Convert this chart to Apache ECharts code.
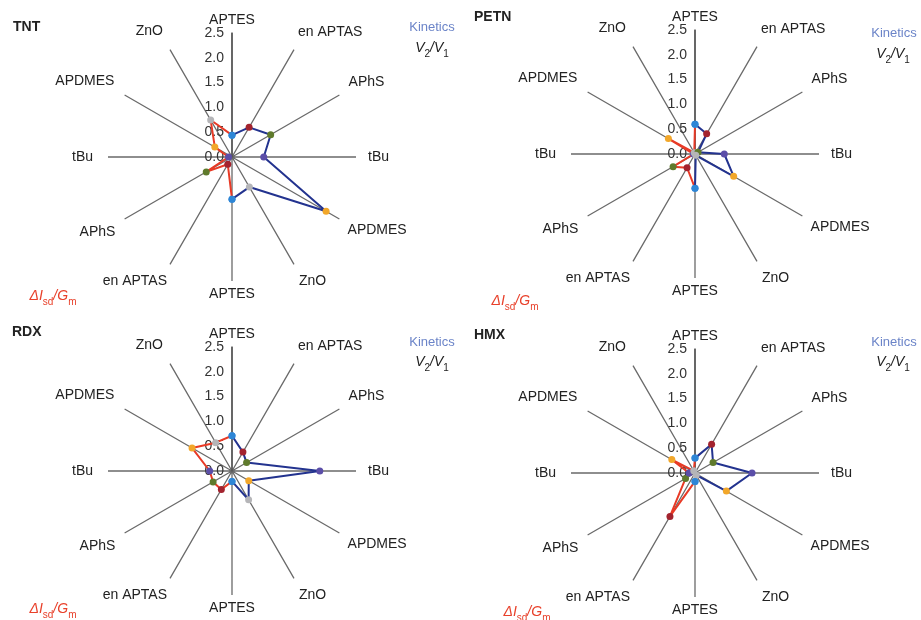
<!DOCTYPE html>
<html>
<head>
<meta charset="utf-8">
<script src="https://cdn.jsdelivr.net/npm/echarts@6/dist/echarts.min.js"></script>
<style>
html,body{margin:0;padding:0;background:#fff;}
#chart{width:921px;height:620px;}
</style>
</head>
<body>
<div id="chart"></div>
<script>
// ---- data ----
var categories = ['APTES', 'en APTAS', 'APhS', 'tBu', 'APDMES', 'ZnO'];
var panels = ['TNT', 'PETN', 'RDX', 'HMX'];
var radiusTicks = [0, 0.5, 1.0, 1.5, 2.0, 2.5];
// Kinetics V2/V1 (right half, 0°..150°)
var kineticsTNT  = [0.44, 0.69, 0.90, 0.64, 2.19, 0.70];
var kineticsPETN = [0.60, 0.47, 0.07, 0.59, 0.90, 0.03];
var kineticsRDX  = [0.71, 0.44, 0.34, 1.77, 0.39, 0.67];
var kineticsHMX  = [0.30, 0.67, 0.42, 1.15, 0.73, 0.05];
// ΔIsd/Gm (left half, 180°..330°)
var isdTNT  = [0.85, 0.17, 0.60, 0.07, 0.40, 0.86];
var isdPETN = [0.69, 0.32, 0.51, 0.03, 0.62, 0.03];
var isdRDX  = [0.21, 0.43, 0.44, 0.45, 0.93, 0.66];
var isdHMX  = [0.17, 1.01, 0.22, 0.12, 0.54, 0.05];

var kinetics = [kineticsTNT, kineticsPETN, kineticsRDX, kineticsHMX];
var isd = [isdTNT, isdPETN, isdRDX, isdHMX];

// ---- styles ----
var FONT = '"Liberation Sans", Arial, Helvetica, sans-serif';
var markerColors = ['#2e86d6', '#a3232e', '#5f7a2c', '#5b4ea8', '#f2a72a', '#b5b5b8'];
var blueLine = '#23338f';
var redLine = '#e83a26';
var centers = [[232, 157], [695, 154], [232, 471], [695, 473]];
var R = 124;
var titlePos = [[13, 27, 'left'], [474, 17, 'left'], [12, 332, 'left'], [474, 335, 'left']];
var kinPos = [[432, 27], [894, 33], [432, 342], [894, 342]];
var vPos = [[432, 49], [893, 55], [432, 363], [893, 363]];
var dPos = [[53, 297], [515, 302], [53, 610], [527, 613]];

var labels12 = categories.concat(categories);
var pads = [
  [0,0,0,0],[0,0,5,1],[0,0,3,4],[0,0,0,6],[1,0,0,3],[5,0,0,2],
  [0,0,0,0],[5,0,0,0],[3,4,0,0],[0,9,0,0],[0,5,4,0],[0,4,6,0]
];
var rich = {};
pads.forEach(function (p, i) {
  rich['a' + i] = { padding: p, fontSize: 14, color: '#222', fontFamily: FONT };
});

var polar = [], angleAxis = [], radiusAxis = [], series = [], graphic = [];
for (var k = 0; k < 4; k++) {
  polar.push({ center: centers[k], radius: R });
  angleAxis.push({
    polarIndex: k, type: 'value', min: 0, max: 360, interval: 30,
    startAngle: 90, clockwise: true,
    axisLine: { show: false }, axisTick: { show: false },
    splitLine: { show: true, lineStyle: { color: '#6a6a6a', width: 1.3 } },
    splitArea: { show: false },
    axisLabel: {
      show: true, margin: 6,
      formatter: function (v) {
        var i = Math.round(v / 30) % 12;
        return '{a' + i + '|' + labels12[i] + '}';
      },
      rich: rich
    }
  });
  radiusAxis.push({
    polarIndex: k, type: 'value', min: radiusTicks[0], max: radiusTicks[radiusTicks.length - 1], interval: 0.5,
    axisLine: { show: true, lineStyle: { color: '#555', width: 1.5 } },
    axisTick: { show: false },
    splitLine: { show: false },
    axisLabel: {
      show: true, showMinLabel: true, showMaxLabel: true, margin: 8,
      fontSize: 14, color: '#333', fontFamily: FONT,
      formatter: function (v) { return v.toFixed(1); }
    },
    z: 3
  });
  var kd = [], rd = [];
  for (var i = 0; i < 6; i++) {
    kd.push({ value: [kinetics[k][i], i * 30], itemStyle: { color: markerColors[i] } });
  }
  kd.push({ value: [isd[k][0], 180], itemStyle: { color: markerColors[0] } });
  for (var j = 0; j < 6; j++) {
    rd.push({ value: [isd[k][j], 180 + j * 30], itemStyle: { color: markerColors[j] } });
  }
  rd.push({ value: [kinetics[k][0], 360], itemStyle: { color: markerColors[0] } });
  series.push({
    type: 'line', coordinateSystem: 'polar', polarIndex: k, data: rd,
    symbol: 'circle', symbolSize: 7, showAllSymbol: true,
    lineStyle: { color: redLine, width: 2 }, z: 4, animation: false
  });
  series.push({
    type: 'line', coordinateSystem: 'polar', polarIndex: k, data: kd,
    symbol: 'circle', symbolSize: 7, showAllSymbol: true,
    lineStyle: { color: blueLine, width: 2 }, z: 5, animation: false
  });

  graphic.push({
    type: 'text', x: titlePos[k][0], y: titlePos[k][1],
    style: { text: panels[k], font: 'bold 14px ' + FONT, fill: '#222', textAlign: 'left', textVerticalAlign: 'middle' }
  });
  graphic.push({
    type: 'text', x: kinPos[k][0], y: kinPos[k][1],
    style: { text: 'Kinetics', font: '13px ' + FONT, fill: '#6b84c8', align: 'center', verticalAlign: 'middle' }
  });
  graphic.push({
    type: 'text', x: vPos[k][0], y: vPos[k][1],
    style: {
      text: '{v|V}{s|2}{v|/V}{s|1}', align: 'center', verticalAlign: 'middle',
      rich: {
        v: { fontSize: 14, fontStyle: 'italic', fontFamily: FONT, fill: '#222', color: '#222', lineHeight: 16, verticalAlign: 'top' },
        s: { fontSize: 10, fontFamily: FONT, fill: '#222', color: '#222', lineHeight: 10, padding: [8, 0, 0, 0], verticalAlign: 'top' }
      }
    }
  });
  graphic.push({
    type: 'text', x: dPos[k][0], y: dPos[k][1],
    style: {
      text: '{r|ΔI}{s|sd}{r|/G}{s|m}', align: 'center', verticalAlign: 'middle',
      rich: {
        r: { fontSize: 14, fontStyle: 'italic', fontFamily: FONT, fill: '#e8402a', color: '#e8402a', lineHeight: 16, verticalAlign: 'top' },
        s: { fontSize: 10, fontFamily: FONT, fill: '#e8402a', color: '#e8402a', lineHeight: 10, padding: [8, 0, 0, 0], verticalAlign: 'top' }
      }
    }
  });
}

var chart = echarts.init(document.getElementById('chart'), null, { renderer: 'canvas' });
chart.setOption({
  backgroundColor: '#fff',
  animation: false,
  polar: polar,
  angleAxis: angleAxis,
  radiusAxis: radiusAxis,
  series: series,
  graphic: graphic
});
</script>
</body>
</html>
